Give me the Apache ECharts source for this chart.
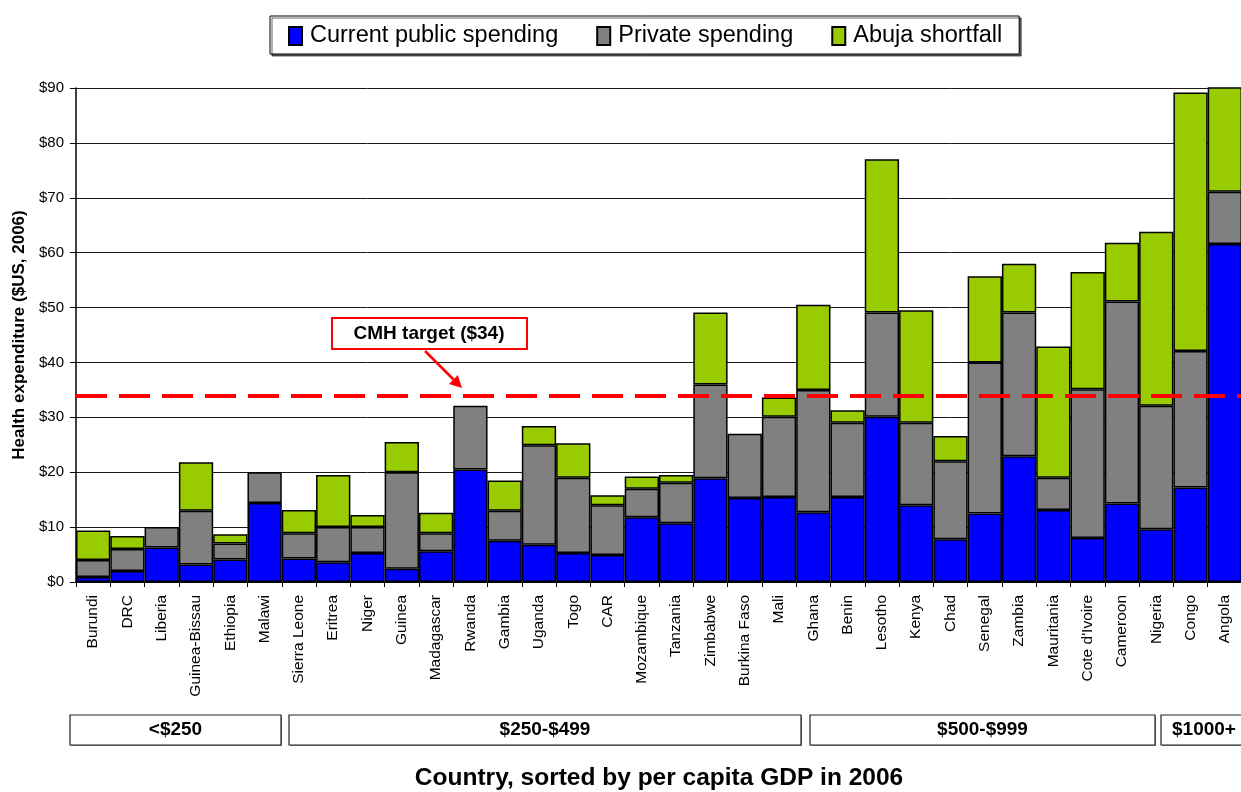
<!DOCTYPE html>
<html>
<head>
<meta charset="utf-8">
<script src="https://cdn.jsdelivr.net/npm/echarts@6/dist/echarts.min.js"></script>
<style>html,body{margin:0;padding:0;background:#fff;}#c{width:1241px;height:792px;}</style>
</head>
<body>
<div id="c"></div>
<script>
var categories = ['Burundi','DRC','Liberia','Guinea-Bissau','Ethiopia','Malawi','Sierra Leone','Eritrea','Niger','Guinea','Madagascar','Rwanda','Gambia','Uganda','Togo','CAR','Mozambique','Tanzania','Zimbabwe','Burkina Faso','Mali','Ghana','Benin','Lesotho','Kenya','Chad','Senegal','Zambia','Mauritania',"Cote d'Ivoire",'Cameroon','Nigeria','Congo','Angola'];
var publicSpending = [0.9,2.0,6.3,3.2,4.1,14.4,4.3,3.6,5.3,2.4,5.6,20.5,7.5,6.8,5.3,4.9,11.8,10.7,18.9,15.3,15.5,12.7,15.5,30.1,14.0,7.8,12.5,22.9,13.1,8.0,14.3,9.6,17.2,61.6];
var privateSpending = [3.1,4.0,3.7,9.8,2.9,5.6,4.6,6.4,4.7,17.6,3.3,11.6,5.5,18.1,13.7,9.1,5.2,7.4,17.1,11.7,14.6,22.3,13.5,19.0,15.0,14.2,27.5,26.2,5.9,27.1,36.8,22.5,24.9,9.5];
var abujaShortfall = [5.4,2.4,null,8.8,1.7,null,4.2,9.5,2.2,5.5,3.7,null,5.5,3.5,6.3,1.8,2.2,1.4,13.1,null,3.5,15.5,2.3,27.9,20.5,4.6,15.7,8.9,23.9,21.4,10.7,31.7,47.1,25.0];
var yTicks = [0,10,20,30,40,50,60,70,80,90];
var cmhTarget = 34;
var incomeGroups = ['<$250','$250-$499','$500-$999','$1000+'];

var FONT = 'Liberation Sans, Arial, sans-serif';
var chart = echarts.init(document.getElementById('c'), null, {renderer:'canvas'});

function barSeries(name, data, color) {
  return {
    name: name, type: 'bar', stack: 'total', data: data,
    barCategoryGap: '0%',
    itemStyle: { color: color, borderColor: '#000', borderWidth: 1.5 },
    emphasis: { disabled: true },
    animation: false
  };
}

var series = [
  barSeries('Current public spending', publicSpending, '#0000FF'),
  barSeries('Private spending', privateSpending, '#808080'),
  barSeries('Abuja shortfall', abujaShortfall, '#99CC00')
];
series[2].markLine = {
  silent: true, symbol: ['none','none'],
  label: { show: false },
  lineStyle: { color: '#FF0000', width: 4, type: [31, 12] },
  data: [{ yAxis: cmhTarget }]
};

// group boxes & annotation (annotation graphics, not data marks)
var groupBoxes = [
  { x: 70, w: 211 }, { x: 289, w: 512 }, { x: 810, w: 345 }, { x: 1161, w: 90 }
];
var graphics = [];
groupBoxes.forEach(function (b, i) {
  graphics.push({ type: 'rect', shape: { x: b.x + 1, y: 716, width: b.w, height: 30 }, style: { fill: '#888', stroke: null }, silent: true, z: 10 });
  graphics.push({ type: 'rect', shape: { x: b.x, y: 715, width: b.w, height: 30 }, style: { fill: '#fff', stroke: '#222', lineWidth: 1.2 }, silent: true, z: 11 });
  graphics.push({ type: 'text', x: i === 3 ? b.x + 11 : b.x + b.w / 2, y: 730, style: { text: incomeGroups[i], font: 'bold 19px ' + FONT, fill: '#000', align: i === 3 ? 'left' : 'center', verticalAlign: 'middle' }, silent: true, z: 12 });
});
graphics.push({ type: 'rect', shape: { x: 332, y: 318, width: 195, height: 31 }, style: { fill: '#fff', stroke: '#FF0000', lineWidth: 2 }, silent: true, z: 20 });
graphics.push({ type: 'text', x: 429, y: 334, style: { text: 'CMH target ($34)', font: 'bold 19px ' + FONT, fill: '#000', align: 'center', verticalAlign: 'middle' }, silent: true, z: 21 });
graphics.push({ type: 'line', shape: { x1: 425, y1: 351, x2: 453.5, y2: 379.5 }, style: { stroke: '#FF0000', lineWidth: 2.5 }, silent: true, z: 21 });
graphics.push({ type: 'polygon', shape: { points: [[462, 388], [449, 384], [457.8, 375]] }, style: { fill: '#FF0000' }, silent: true, z: 21 });

var option = {
  animation: false,
  backgroundColor: '#fff',
  textStyle: { fontFamily: FONT },
  legend: {
    left: 270, top: 16,
    padding: [8, 17, 6, 18],
    itemWidth: 13, itemHeight: 18, itemGap: 38,
    icon: 'rect',
    borderColor: '#000', borderWidth: 1,
    shadowColor: 'rgba(0,0,0,0.6)', shadowOffsetX: 2, shadowOffsetY: 2, shadowBlur: 0,
    backgroundColor: '#fff',
    textStyle: { fontSize: 23.5, color: '#000', fontFamily: FONT, padding: [0, 0, 0, 3] },
    selectedMode: false,
    data: ['Current public spending', 'Private spending', 'Abuja shortfall']
  },
  grid: { left: 76, right: -1, top: 88, bottom: 210, containLabel: false, outerBoundsMode: 'none' },
  xAxis: {
    type: 'category', data: categories,
    axisLine: { lineStyle: { color: '#000', width: 1.5 } },
    axisTick: { show: true, length: 5, lineStyle: { color: '#000' }, interval: 0 },
    axisLabel: { rotate: 90, interval: 0, fontSize: 15.5, color: '#000', margin: 13, fontFamily: FONT },
    name: 'Country, sorted by per capita GDP in 2006',
    nameLocation: 'middle', nameGap: 184,
    nameTextStyle: { fontSize: 24.5, fontWeight: 'bold', color: '#000', fontFamily: FONT }
  },
  yAxis: {
    type: 'value', min: yTicks[0], max: yTicks[yTicks.length - 1], interval: 10,
    axisLine: { show: true, lineStyle: { color: '#000', width: 1.5 } },
    axisTick: { show: true, length: 6, lineStyle: { color: '#000' } },
    axisLabel: { formatter: function (v) { return '$' + v; }, fontSize: 15, color: '#000', margin: 12, fontFamily: FONT },
    splitLine: { show: true, lineStyle: { color: '#1a1a1a', width: 1 } },
    name: 'Health expenditure ($US, 2006)',
    nameLocation: 'middle', nameGap: 41, nameRotate: 90,
    nameTextStyle: { fontSize: 17, fontWeight: 'bold', color: '#000', fontFamily: FONT }
  },
  series: series,
  graphic: graphics
};
chart.setOption(option);
</script>
</body>
</html>
